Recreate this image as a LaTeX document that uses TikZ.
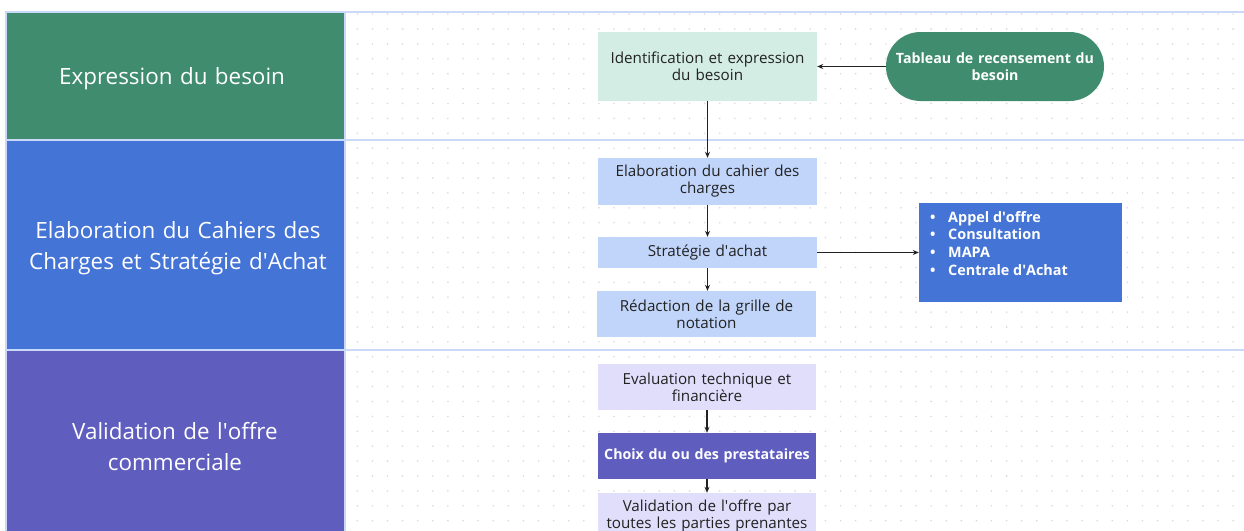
\documentclass[tikz,border=0pt]{standalone}
\usepackage{fontspec}
\setmainfont{Open Sans}
\usetikzlibrary{arrows.meta}
\definecolor{bandgreen}{HTML}{3F8C6E}
\definecolor{bandblue}{HTML}{4474D5}
\definecolor{bandpurple}{HTML}{5F5DBE}
\definecolor{mint}{HTML}{D3ECE4}
\definecolor{paleblue}{HTML}{C1D5FA}
\definecolor{lavender}{HTML}{E0DEFB}
\definecolor{rule}{HTML}{C9D9F7}
\definecolor{dotgray}{HTML}{DADADA}
\definecolor{ink}{HTML}{222222}
\newcommand{\apos}{\textquotesingle}
\tikzset{
  band/.style={draw=rule, line width=1.2pt},
  bandtitle/.style={text=white, font=\fontsize{22.4}{31}\selectfont, align=center, text width=330pt},
  stepbox/.style={rectangle, minimum width=219pt, text width=214pt, align=center, text=ink,
    font=\fontsize{15.2}{17}\selectfont, inner sep=0pt},
  boldbox/.style={stepbox, text=white, font=\bfseries\fontsize{14.2}{17.5}\selectfont},
  link/.style={draw=ink, line width=1.1pt, -{Stealth[length=6pt,width=5pt]}},
}
\begin{document}
\begin{tikzpicture}[x=1pt,y=-1pt]
\useasboundingbox (0,0) rectangle (1244,530);
\clip (0,0) rectangle (1244,530);

% dotted canvas
\foreach \i in {0,...,58} {
  \foreach \j in {0,...,34} {
    \fill[dotgray] (357.3+15.1*\i, 14.1+14.9*\j) circle (0.9pt);
  }
}

% swim-lane headers
\fill[bandgreen] (6,12) rectangle (345,140);
\fill[bandblue] (6,140) rectangle (345,350);
\fill[bandpurple] (6,350) rectangle (345,540);
\draw[band] (6,540) -- (6,12) -- (1244,12);
\draw[band] (6,140) -- (1244,140);
\draw[band] (6,350) -- (1244,350);
\draw[band] (345,12) -- (345,540);

\node[bandtitle] (h1) at (172,79) {Expression du besoin};
\node[bandtitle] (h2) at (178,248) {Elaboration du Cahiers des\\Charges et Strat\'egie d\apos Achat};
\node[bandtitle] (h3) at (175,447) {Validation de l\apos offre\\commerciale};

% process steps
\node[stepbox, fill=mint, minimum height=69pt] (ident) at (707.5,66.5)
  {Identification et expression\\du besoin};
\node[boldbox, fill=bandgreen, minimum width=218pt, minimum height=69pt, rounded corners=34.5pt] (tab) at (995,66.5)
  {Tableau de recensement du\\besoin};

\node[stepbox, fill=paleblue, minimum height=47pt] (elab) at (707.5,181.5)
  {Elaboration du cahier des\\charges};
\node[stepbox, fill=paleblue, minimum height=31pt] (strat) at (707.5,252.5)
  {Strat\'egie d\apos achat};
\node[stepbox, fill=paleblue, minimum height=46pt] (redac) at (706.5,314)
  {R\'edaction de la grille de\\notation};
\node[rectangle, fill=bandblue, minimum width=203pt, minimum height=99pt] (modes) at (1020.5,252.5) {};
\node[anchor=north west, text=white, font=\bfseries\fontsize{14.4}{17.7}\selectfont, align=left, inner sep=0pt] (list) at (930,211)
  {\makebox[18pt][l]{\textbullet}Appel d\apos offre\\
   \makebox[18pt][l]{\textbullet}Consultation\\
   \makebox[18pt][l]{\textbullet}MAPA\\
   \makebox[18pt][l]{\textbullet}Centrale d\apos Achat};

\node[stepbox, fill=lavender, minimum width=218pt, minimum height=46pt] (evalu) at (707,387)
  {Evaluation technique et\\financi\`ere};
\node[boldbox, fill=bandpurple, minimum width=218pt, minimum height=46pt] (choix) at (707,456)
  {Choix du ou des prestataires};
\node[stepbox, fill=lavender, minimum width=218pt, minimum height=46pt] (valid) at (707,516)
  {Validation de l\apos offre par\\toutes les parties prenantes};

% connectors
\draw[link] (tab.west) -- (ident.east);
\draw[link] (ident.south) -- (elab.north);
\draw[link] (elab.south) -- (strat.north);
\draw[link] (strat.south) -- (redac.north -| strat.south);
\draw[link] (strat.east) -- (modes.west);
\draw[link] (evalu.south) -- (choix.north);
\draw[link] (choix.south) -- (valid.north);
\end{tikzpicture}
\end{document}
